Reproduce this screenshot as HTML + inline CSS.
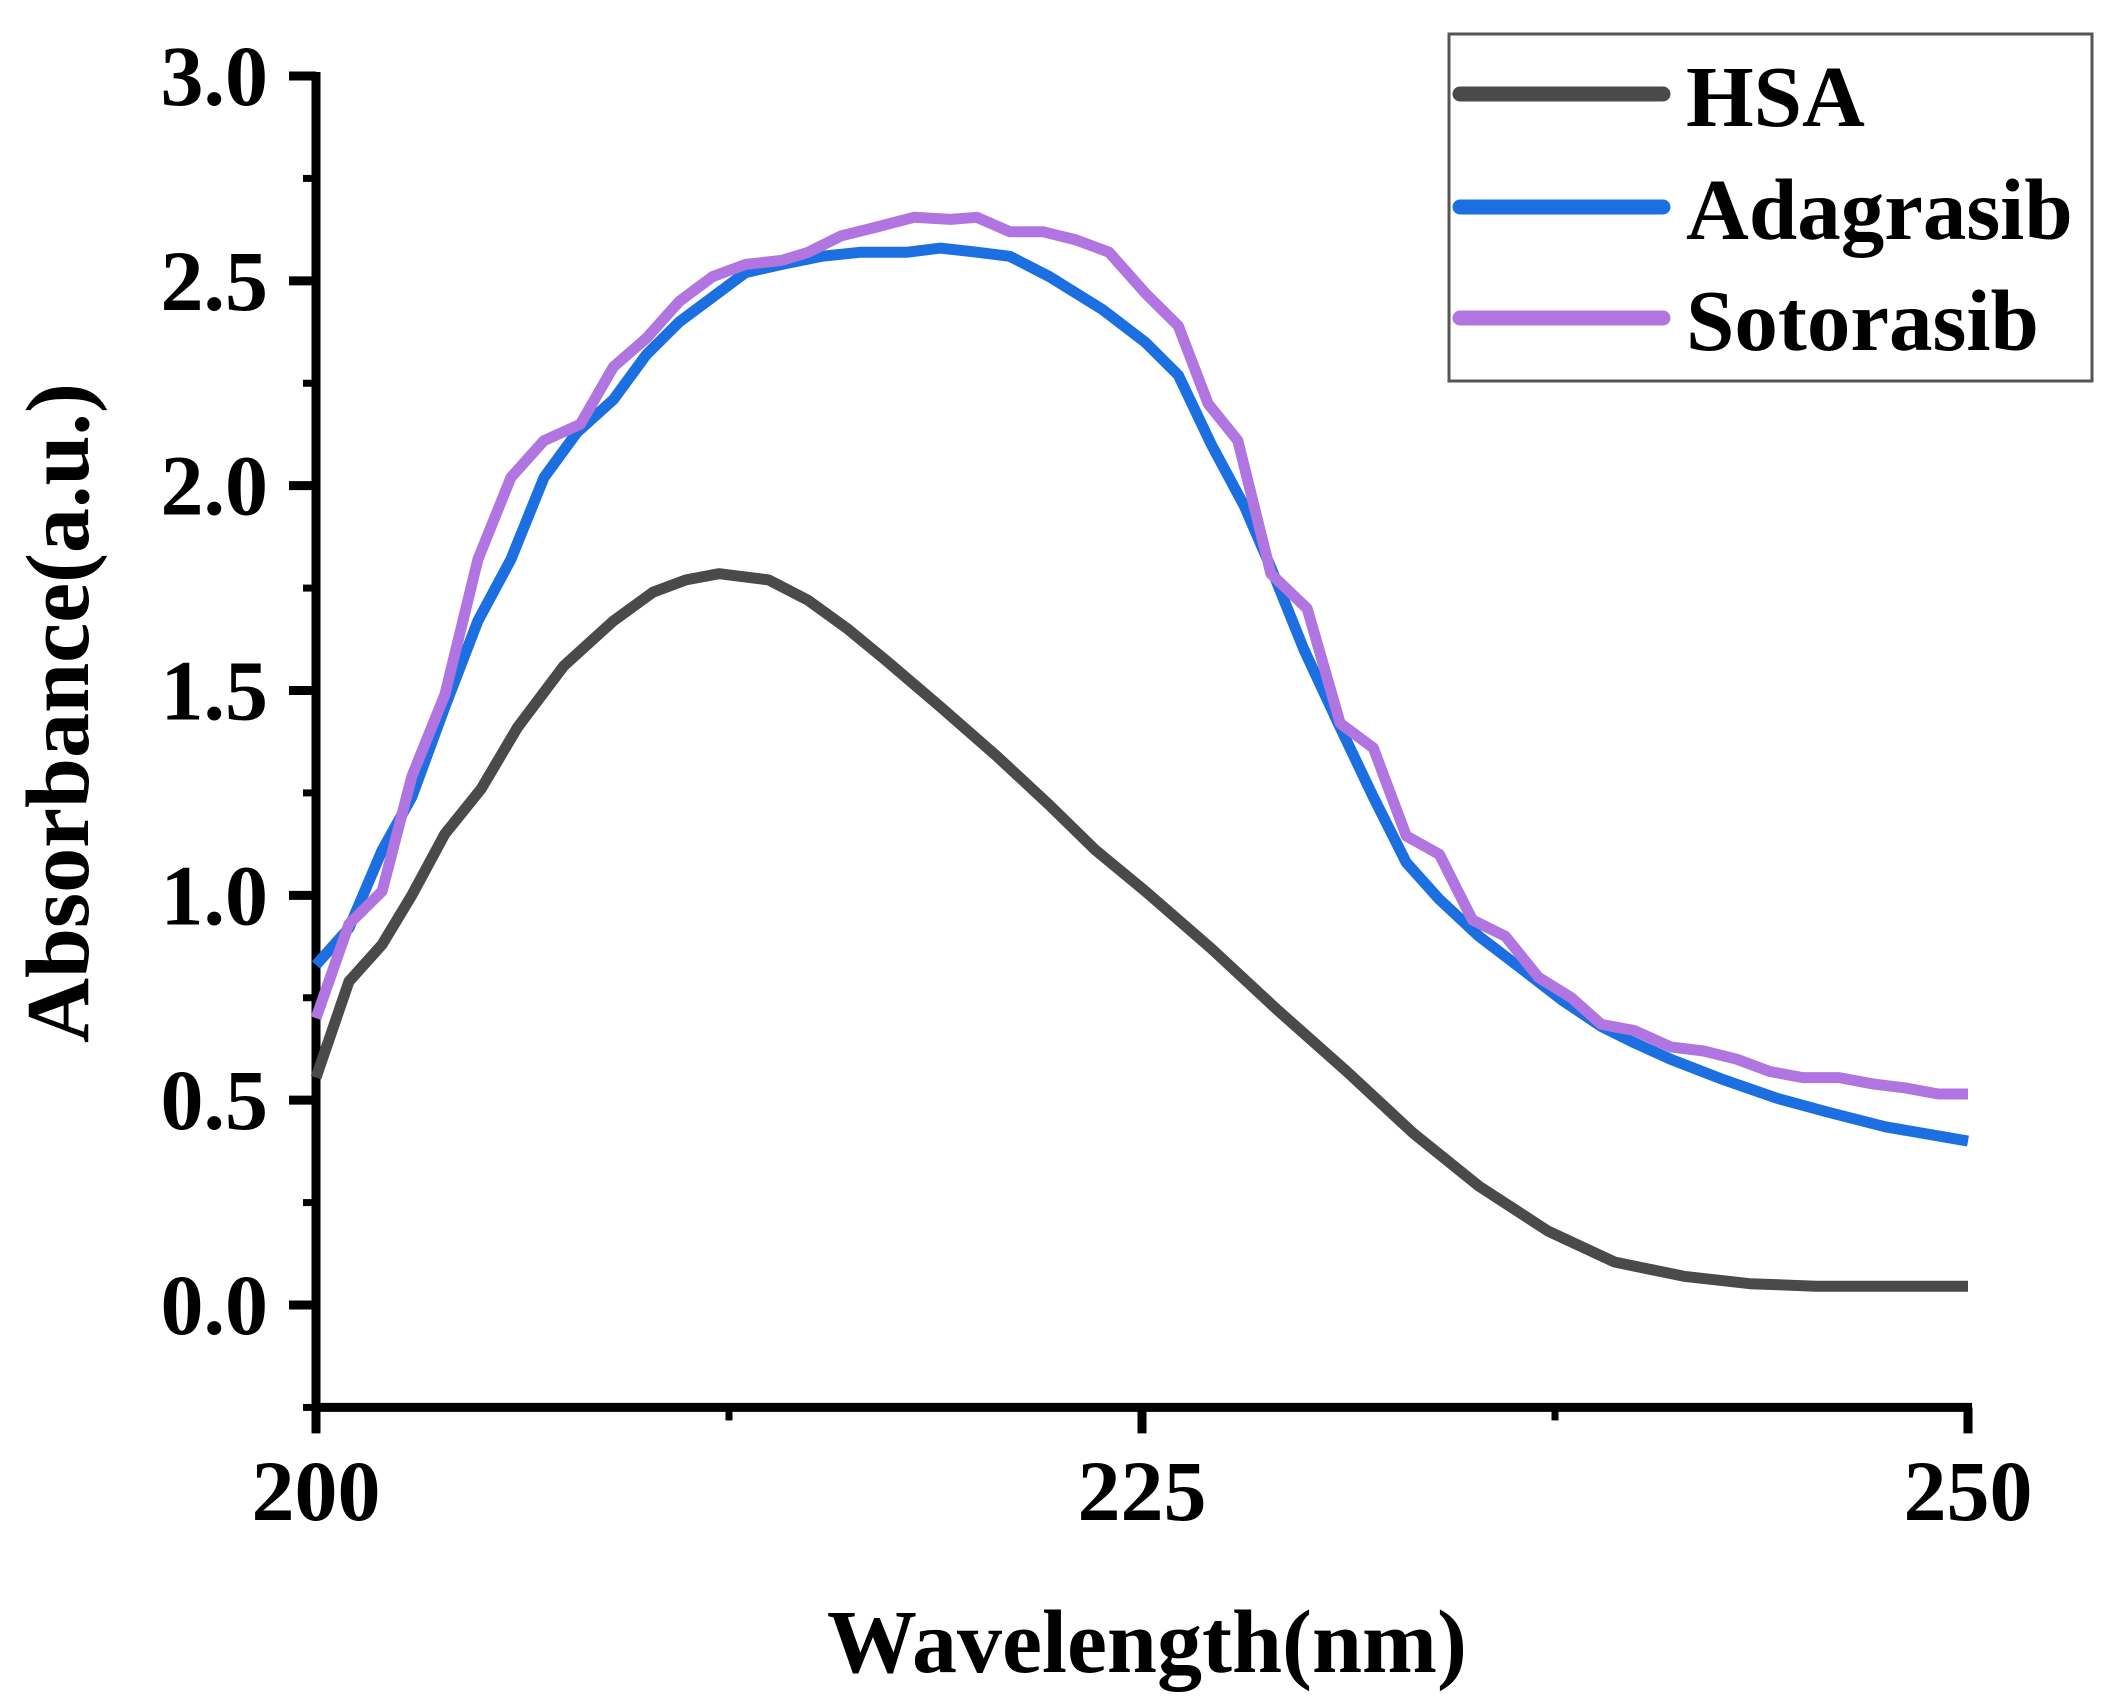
<!DOCTYPE html>
<html><head><meta charset="utf-8"><style>
html,body{margin:0;padding:0;background:#fff;}
svg{display:block;}
text{font-family:"Liberation Serif","DejaVu Serif",serif;font-weight:bold;fill:#000;}
</style></head><body>
<svg id="chart" width="2112" height="1707" viewBox="0 0 2112 1707" xmlns="http://www.w3.org/2000/svg">
<g id="axes"></g>
<g id="series"></g>
<g id="legend"></g>
</svg>
<script>
const xTicks = [200, 225, 250];
const xMinor = [212.5, 237.5];
const yTicks = [0.0, 0.5, 1.0, 1.5, 2.0, 2.5, 3.0];
const yTickLabels = ["0.0","0.5","1.0","1.5","2.0","2.5","3.0"];
const yMinor = [-0.25, 0.25, 0.75, 1.25, 1.75, 2.25, 2.75];
const seriesNames = ["HSA", "Adagrasib", "Sotorasib"];
const seriesColors = ["#4a4a4a", "#1b6fe0", "#b075e0"];

const hsaX = [200,201.0,202.0,202.9,203.9,205.0,206.1,207.5,209.0,210.2,211.2,212.2,213.7,214.9,216.1,217.3,218.9,220.6,222.2,223.6,225.1,227.1,229.1,231.2,233.2,235.2,237.3,239.3,241.4,243.4,245.4,247.5,250];
const hsaY = [0.555,0.79,0.88,1.0,1.15,1.26,1.41,1.56,1.67,1.74,1.77,1.785,1.77,1.72,1.65,1.57,1.46,1.34,1.22,1.11,1.01,0.87,0.72,0.57,0.42,0.29,0.18,0.105,0.07,0.052,0.046,0.046,0.046];

const adaX = [200,201.0,202.0,202.9,203.9,204.9,205.9,206.9,207.9,209.0,210.0,211.0,212.0,213.0,214.1,215.3,216.5,217.9,218.9,220.0,221.0,222.2,223.8,225.1,226.1,227.1,228.1,228.9,229.9,231.0,232.0,233.0,234.0,235.2,236.5,237.7,238.9,239.9,241.0,242.6,244.2,245.8,247.5,250];
const adaY = [0.83,0.92,1.11,1.24,1.46,1.67,1.82,2.02,2.13,2.21,2.32,2.40,2.46,2.52,2.54,2.56,2.57,2.57,2.58,2.57,2.56,2.51,2.43,2.35,2.27,2.10,1.95,1.80,1.60,1.41,1.24,1.08,0.99,0.90,0.82,0.745,0.68,0.64,0.60,0.55,0.505,0.47,0.435,0.40];

const sotX = [200,201.0,202.0,202.9,203.9,204.9,205.9,206.9,208.0,209.0,210.0,211.0,212.0,213.0,214.1,214.9,215.9,216.9,218.1,219.2,220.0,221.0,222.0,223.0,224.0,225.1,226.1,227.0,227.9,228.9,230.0,231.0,232.0,233.0,234.0,235.0,236.0,237.0,238.0,238.9,239.9,241.0,242.0,243.0,244.0,245.0,246.1,247.1,248.1,249.1,250];
const sotY = [0.70,0.93,1.01,1.29,1.49,1.82,2.02,2.11,2.15,2.29,2.36,2.45,2.51,2.54,2.55,2.57,2.61,2.63,2.655,2.65,2.655,2.62,2.62,2.60,2.57,2.47,2.39,2.20,2.11,1.785,1.70,1.42,1.36,1.145,1.10,0.94,0.90,0.80,0.75,0.685,0.67,0.63,0.62,0.60,0.57,0.555,0.555,0.54,0.53,0.515,0.515];

const X0 = 316, X1 = 1968, Y0 = 1305, Y3 = 76;
function sx(v){ return X0 + (v - 200) * (X1 - X0) / 50; }
function sy(v){ return Y0 - v * (Y0 - Y3) / 3; }
const NS = "http://www.w3.org/2000/svg";
function mk(tag, attrs, parent){
  const e = document.createElementNS(NS, tag);
  for (const k in attrs) e.setAttribute(k, attrs[k]);
  parent.appendChild(e);
  return e;
}
const axes = document.getElementById('axes');
const series = document.getElementById('series');
const legend = document.getElementById('legend');

let yAxis = mk('line', {x1:X0, y1:Y3-4, x2:X0, y2:sy(-0.25)+5, stroke:'#000','stroke-width':9}, axes);


let xAxis = mk('line', {x1:X0-4, y1:sy(-0.25), x2:X1+4, y2:sy(-0.25), stroke:'#000','stroke-width':9}, axes);



const XB = sy(-0.25);
xTicks.forEach(function(v){
  const t = mk('line', {x1:sx(v), y1:XB, x2:sx(v), y2:XB+26, stroke:'#000','stroke-width':9}, axes);
  
  
  const l = mk('text', {x:sx(v), y:1520, 'font-size':86, 'text-anchor':'middle'}, axes);
  l.textContent = String(v);
  
  
});
xMinor.forEach(function(v){
  const t = mk('line', {x1:sx(v), y1:XB, x2:sx(v), y2:XB+13, stroke:'#000','stroke-width':7}, axes);
  
  
});
yTicks.forEach(function(v, i){
  const t = mk('line', {x1:X0-27, y1:sy(v), x2:X0, y2:sy(v), stroke:'#000','stroke-width':9}, axes);
  
  
  const l = mk('text', {x:268, y:sy(v)+29, 'font-size':86, 'text-anchor':'end'}, axes);
  l.textContent = yTickLabels[i];
  
  
});
yMinor.forEach(function(v){
  const t = mk('line', {x1:X0-13, y1:sy(v), x2:X0, y2:sy(v), stroke:'#000','stroke-width':7}, axes);
  
  
});

const xt = mk('text', {x:1147, y:1672, 'font-size':90, 'text-anchor':'middle'}, axes);
xt.textContent = 'Wavelength(nm)';


const yt = mk('text', {x:0, y:0, 'font-size':90, 'text-anchor':'middle', transform:'translate(88,713) rotate(-90)'}, axes);
yt.textContent = 'Absorbance(a.u.)';



const allX = [hsaX, adaX, sotX], allY = [hsaY, adaY, sotY];
const lineNames = ['hsa-line', 'adagrasib-line', 'sotorasib-line'];
allX.forEach(function(xs, s){
  const ys = allY[s];
  const pts = xs.map(function(x, i){ return sx(x).toFixed(1) + ',' + sy(ys[i]).toFixed(1); }).join(' ');
  const p = mk('polyline', {points:pts, fill:'none', stroke:seriesColors[s], 'stroke-width':11, 'stroke-linejoin':'round'}, series);
  
  
});

const box = mk('rect', {x:1449, y:34, width:643, height:347, fill:'#fff', stroke:'#555', 'stroke-width':3}, legend);


const ly = [94, 207, 318];
seriesNames.forEach(function(n, i){
  const ln = mk('line', {x1:1460, y1:ly[i], x2:1663, y2:ly[i], stroke:seriesColors[i], 'stroke-width':15, 'stroke-linecap':'round'}, legend);
  
  
  const t = mk('text', {x:1686, y:ly[i]+32, 'font-size':87}, legend);
  t.textContent = n;
  
  
});
</script>
</body></html>
